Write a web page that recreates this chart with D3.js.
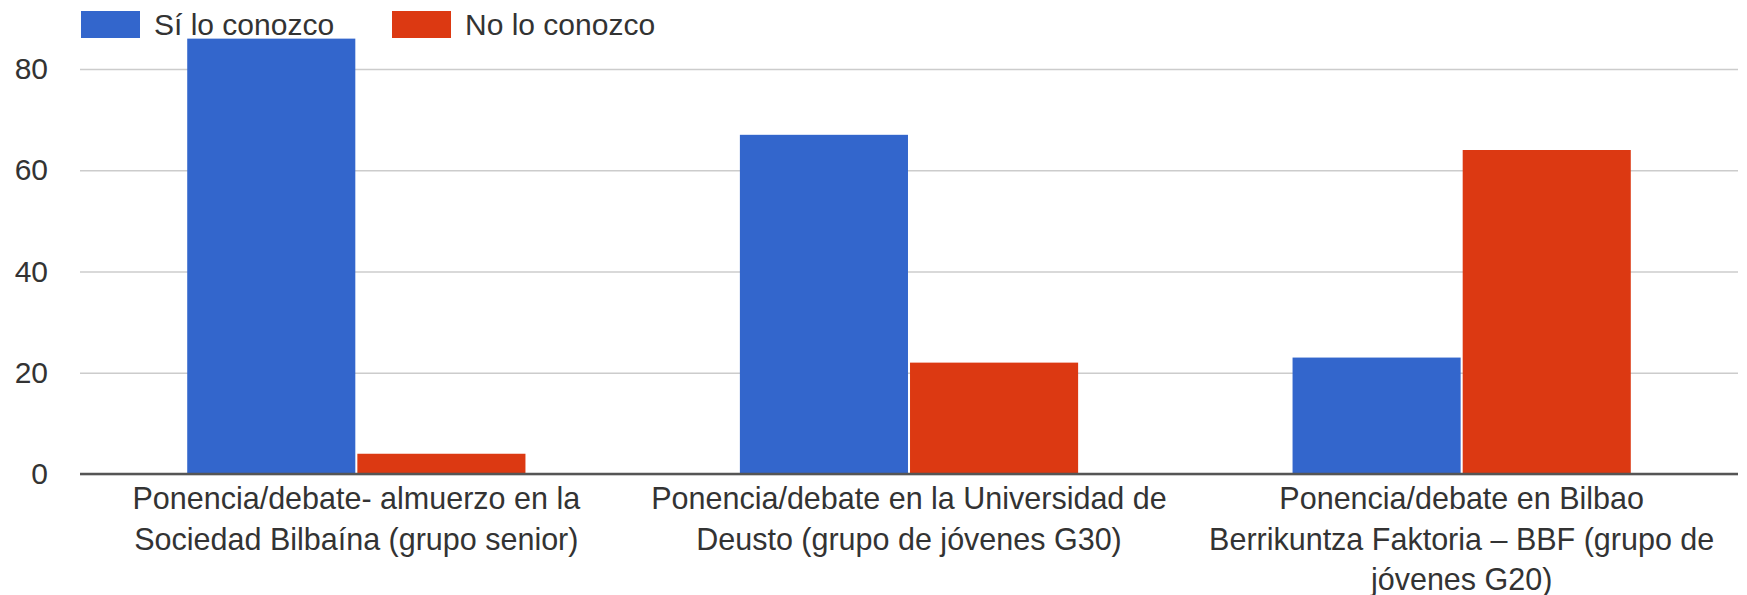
<!DOCTYPE html>
<html>
<head>
<meta charset="utf-8">
<script src="https://cdn.jsdelivr.net/npm/d3@7"></script>
<style>
  html, body { margin: 0; padding: 0; background: #fff; }
  svg { display: block; font-family: "Liberation Sans", Arial, sans-serif; }
</style>
</head>
<body>
<svg id="chart" width="1747" height="595"></svg>
<script>
const categories = [
  ["Ponencia/debate- almuerzo en la", "Sociedad Bilbaína (grupo senior)"],
  ["Ponencia/debate en la Universidad de", "Deusto (grupo de jóvenes G30)"],
  ["Ponencia/debate en Bilbao", "Berrikuntza Faktoria – BBF (grupo de", "jóvenes G20)"]
];
const seriesNames = ["Sí lo conozco", "No lo conozco"];
const siValues = [86, 67, 23];
const noValues = [4, 22, 64];
const yTicks = [0, 20, 40, 60, 80];
const colors = ["#3366cc", "#dc3912"];

const svg = d3.select("#chart");
const plotLeft = 80, plotRight = 1738, plotTop = 28.5, plotBottom = 474;

const catIdx = categories.map((d, i) => i);
const x0 = d3.scaleBand().domain(catIdx).range([plotLeft, plotRight]).paddingInner(0.388).paddingOuter(0.194);
const x1 = d3.scaleBand().domain([0, 1]).range([0, x0.bandwidth()]).paddingInner(0.012);
const y = d3.scaleLinear().domain([0, 88]).range([plotBottom, plotTop]);

// gridlines
const yAxis = d3.axisLeft(y).tickValues(yTicks).tickSize(-(plotRight - plotLeft)).tickPadding(32);
const gy = svg.append("g").attr("transform", `translate(${plotLeft},0)`).call(yAxis);
gy.select(".domain").remove();
gy.selectAll(".tick line").attr("stroke", "#cccccc").attr("stroke-width", 1.5);
gy.selectAll(".tick text").attr("font-size", 30).attr("fill", "#333").attr("font-family", "Liberation Sans, Arial, sans-serif");

// bars
const data = catIdx.map(i => [siValues[i], noValues[i]]);
const groups = svg.append("g").selectAll("g").data(data).join("g")
  .attr("transform", (d, i) => `translate(${x0(i)},0)`);
groups.selectAll("rect").data(d => d.map((v, s) => ({v, s}))).join("rect")
  .attr("x", d => x1(d.s))
  .attr("y", d => y(d.v))
  .attr("width", x1.bandwidth())
  .attr("height", d => y(0) - y(d.v))
  .attr("fill", d => colors[d.s]);

// baseline
svg.append("line").attr("x1", plotLeft).attr("x2", plotRight).attr("y1", y(0)).attr("y2", y(0))
  .attr("stroke", "#555").attr("stroke-width", 2.5);

// category labels
const lab = svg.append("g").selectAll("text").data(categories).join("text")
  .attr("x", (d, i) => x0(i) + x0.bandwidth() / 2)
  .attr("y", 509)
  .attr("text-anchor", "middle")
  .attr("font-size", 30.5)
  .attr("fill", "#333");
lab.selectAll("tspan").data(d => d).join("tspan")
  .attr("x", function() { return d3.select(this.parentNode).attr("x"); })
  .attr("dy", (d, i) => i === 0 ? 0 : 40.5)
  .text(d => d);

// legend
const legendX = [81, 392];
const leg = svg.append("g").selectAll("g").data(seriesNames).join("g")
  .attr("transform", (d, i) => `translate(${legendX[i]},11)`);
leg.append("rect").attr("width", 59).attr("height", 27).attr("fill", (d, i) => colors[i]);
leg.append("text").attr("x", 73).attr("y", 24).attr("font-size", 30).attr("fill", "#333").text(d => d);
</script>
</body>
</html>
